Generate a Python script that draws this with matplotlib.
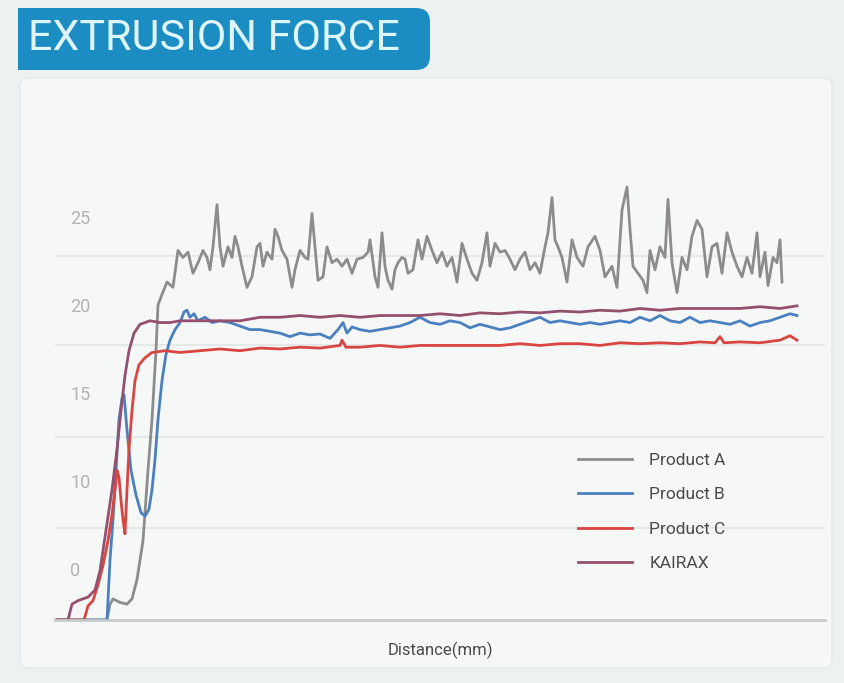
import matplotlib
matplotlib.use('Agg')
import matplotlib.pyplot as plt
from matplotlib.patches import Rectangle, FancyBboxPatch

# distance (arbitrary units, no tick labels on the reference) and force
a_x = [0, 50, 53, 56, 63, 70, 75, 80, 86, 91, 95, 99, 101, 105, 110, 116, 121, 126, 131, 136,
       141, 146, 150, 153, 156, 160, 163, 166, 171, 175, 178, 181, 185, 190, 195, 200, 203, 206,
       210, 215, 218, 221, 225, 230, 235, 238, 243, 248, 251, 255, 258, 261, 266, 270, 275, 280,
       285, 290, 295, 300, 306, 311, 313, 318, 321, 325, 328, 331, 335, 338, 341, 345, 348, 351,
       356, 361, 365, 370, 375, 380, 385, 390, 395, 400, 405, 410, 415, 420, 425, 430, 433, 438,
       443, 448, 453, 458, 463, 468, 473, 478, 483, 488, 491, 495, 498, 501, 505, 510, 515, 520,
       526, 531, 538, 543, 548, 555, 560, 565, 570, 573, 576, 581, 586, 590, 593, 598, 603, 608,
       611, 615, 620, 625, 630, 635, 640, 645, 650, 655, 660, 665, 670, 675, 680, 685, 690, 695,
       700, 703, 708, 711, 716, 720, 723, 725]
a_y = [2.1, 2.1, 3.0, 3.3, 3.1, 3.0, 3.3, 4.4, 6.6, 10.6, 13.5, 17.4, 20.0, 20.6, 21.3, 21.0,
       23.1, 22.7, 23.0, 21.8, 22.4, 23.1, 22.7, 22.0, 23.3, 25.7, 23.3, 22.2, 23.3, 22.7, 23.9,
       23.3, 22.2, 21.0, 21.6, 23.3, 23.5, 22.2, 23.0, 22.6, 24.3, 23.9, 23.1, 22.6, 21.0, 22.0,
       23.1, 22.7, 22.6, 25.2, 23.3, 21.4, 21.6, 23.3, 22.4, 22.6, 22.2, 22.6, 21.8, 22.6, 22.7,
       23.0, 23.7, 21.6, 21.0, 24.1, 22.2, 21.4, 20.9, 22.0, 22.4, 22.7, 22.6, 21.8, 22.0, 23.7,
       22.6, 23.9, 23.1, 22.4, 23.0, 22.2, 22.7, 21.3, 23.5, 22.6, 21.8, 21.4, 22.4, 24.1, 22.2,
       23.5, 23.0, 23.1, 22.6, 22.0, 22.6, 23.0, 22.0, 22.4, 21.8, 23.3, 24.1, 26.1, 23.7, 23.3,
       22.7, 21.3, 23.7, 22.7, 22.2, 23.3, 23.9, 23.1, 21.6, 22.2, 21.0, 25.4, 26.7, 24.3, 22.2,
       21.8, 21.4, 20.7, 23.1, 22.0, 23.3, 22.7, 26.0, 22.4, 20.7, 22.7, 22.0, 23.9, 24.8, 24.3,
       21.6, 23.3, 23.5, 21.8, 24.1, 23.0, 22.2, 21.6, 22.7, 21.8, 24.1, 21.6, 23.0, 21.1, 22.7,
       22.4, 23.7, 21.3]

b_x = [0, 50, 53, 56, 59, 62, 65, 67, 70, 74, 79, 84, 88, 92, 95, 98, 101, 105, 109, 113, 118,
       123, 127, 130, 133, 137, 141, 148, 155, 163, 173, 183, 193, 203, 213, 223, 233, 243, 253,
       263, 273, 281, 286, 290, 295, 303, 313, 323, 333, 343, 353, 363, 373, 383, 393, 403, 413,
       423, 433, 443, 453, 463, 473, 483, 493, 503, 513, 523, 533, 543, 553, 563, 573, 583, 593,
       603, 613, 623, 633, 643, 653, 663, 673, 683, 693, 703, 713, 723, 733, 740]
b_y = [2.1, 2.1, 5.5, 7.8, 10.6, 13.5, 14.7, 14.9, 12.9, 10.6, 9.2, 8.2, 8.0, 8.4, 9.5, 11.2,
       13.5, 15.7, 17.2, 18.0, 18.6, 19.0, 19.6, 19.7, 19.3, 19.5, 19.1, 19.3, 19.0, 19.1, 19.0,
       18.8, 18.6, 18.6, 18.5, 18.4, 18.2, 18.4, 18.3, 18.35, 18.1, 18.6, 19.0, 18.4, 18.75, 18.6,
       18.5, 18.6, 18.7, 18.8, 19.0, 19.3, 19.0, 18.9, 19.1, 19.0, 18.7, 18.9, 18.75, 18.6, 18.7,
       18.9, 19.1, 19.3, 19.0, 19.1, 19.0, 18.9, 19.0, 18.9, 19.0, 19.1, 19.0, 19.3, 19.1, 19.4,
       19.1, 19.0, 19.3, 19.0, 19.1, 19.0, 18.9, 19.1, 18.8, 19.0, 19.1, 19.3, 19.5, 19.4]

c_x = [0, 27, 31, 36, 41, 46, 51, 55, 58, 60, 62, 64, 66, 68, 70, 72, 75, 78, 82, 88, 95, 108,
       123, 143, 163, 183, 203, 223, 243, 263, 283, 285, 289, 303, 323, 343, 363, 383, 403, 423,
       443, 463, 483, 503, 523, 543, 563, 583, 603, 623, 643, 658, 663, 667, 683, 703, 723, 733, 740]
c_y = [2.1, 2.1, 2.9, 3.2, 4.1, 5.2, 6.6, 8.1, 9.5, 10.6, 10.2, 8.9, 7.8, 7.0, 9.5, 11.8, 14.0,
       15.7, 16.6, 17.0, 17.3, 17.4, 17.3, 17.4, 17.5, 17.4, 17.55, 17.5, 17.6, 17.55, 17.7, 18.0,
       17.6, 17.6, 17.7, 17.6, 17.7, 17.7, 17.7, 17.7, 17.7, 17.8, 17.7, 17.8, 17.8, 17.7, 17.85,
       17.8, 17.85, 17.8, 17.9, 17.85, 18.2, 17.85, 17.9, 17.85, 18.0, 18.25, 18.0]

k_x = [0, 11, 15, 21, 31, 38, 43, 49, 55, 60, 64, 68, 72, 77, 83, 93, 103, 113, 123, 143, 163,
       183, 203, 223, 243, 263, 283, 303, 323, 343, 363, 383, 403, 423, 443, 463, 483, 503, 523,
       543, 563, 583, 603, 623, 643, 663, 683, 703, 723, 740]
k_y = [2.1, 2.1, 3.0, 3.2, 3.4, 3.8, 4.9, 7.2, 9.5, 11.8, 14.0, 16.0, 17.4, 18.4, 18.9, 19.1,
       19.0, 19.0, 19.1, 19.1, 19.1, 19.1, 19.3, 19.3, 19.4, 19.3, 19.4, 19.3, 19.4, 19.4, 19.4,
       19.5, 19.4, 19.55, 19.5, 19.6, 19.55, 19.65, 19.6, 19.7, 19.65, 19.8, 19.7, 19.8, 19.8,
       19.8, 19.8, 19.9, 19.8, 19.95]

tick_vals = [25, 20, 15, 10, 5]
tick_labels = ['25', '20', '15', '10', '0']
grid_vals = [22.8, 17.7, 12.5, 7.3]

W, H = 844, 683
fig = plt.figure(figsize=(W / 100, H / 100), dpi=100, facecolor='#eef1f1')

# light panel behind the chart
fig.patches.append(FancyBboxPatch((20, H - 668), 812, 590, boxstyle='round,pad=0,rounding_size=8',
                                  transform=None, facecolor='#f6f8f8', edgecolor='#e6e9e9', lw=1,
                                  zorder=-2))

# title banner
fig.patches.append(Rectangle((18, H - 70), 300, 62, transform=None, facecolor='#1b8dc2', lw=0,
                             zorder=-1))
fig.patches.append(FancyBboxPatch((250, H - 70), 180, 62, boxstyle='round,pad=0,rounding_size=14',
                                  transform=None, facecolor='#1b8dc2', lw=0, zorder=-1))
fig.text(28 / W, 1 - 39 / H, 'EXTRUSION FORCE', color='#def5fb', fontsize=31, va='center',
         ha='left', family=['Roboto', 'DejaVu Sans'])

ax = fig.add_axes([55 / W, 1 - 620 / H, 770 / W, 440 / H])
ax.set_facecolor('none')

for g in grid_vals:
    ax.axhline(g, color='#e2e5e5', lw=1.2, zorder=0)

ax.plot(a_x, a_y, color='#8c8c8c', lw=2, label='Product A')
ax.plot(b_x, b_y, color='#4a80c0', lw=2, label='Product B')
ax.plot(c_x, c_y, color='#d9463f', lw=2, label='Product C')
ax.plot(k_x, k_y, color='#94506e', lw=2, label='KAIRAX')

ax.set_xlim(-2, 768)
ax.set_ylim(2.1, 27.1)

for s in ['top', 'right', 'left']:
    ax.spines[s].set_visible(False)
ax.spines['bottom'].set_color('#c6caca')
ax.spines['bottom'].set_linewidth(2)

ax.set_xticks([])
ax.set_yticks(tick_vals, tick_labels)
ax.tick_params(axis='y', length=0, pad=-11, labelcolor='#b3b3b3', labelsize=13)
for lbl in ax.get_yticklabels():
    lbl.set_horizontalalignment('left')
    lbl.set_family(['Roboto', 'DejaVu Sans'])

ax.set_xlabel('Distance(mm)', color='#4a4a4a', fontsize=12, labelpad=16,
              family=['Roboto', 'DejaVu Sans'])

ax.legend(loc='upper left', bbox_to_anchor=(578 / W, 1 - 453 / H), bbox_transform=fig.transFigure,
          frameon=False, handlelength=3.1, handletextpad=1.0, labelspacing=1.1,
          borderpad=0, borderaxespad=0, labelcolor='#4a4a4a',
          prop={'family': ['Roboto', 'DejaVu Sans'], 'size': 12.5})

plt.savefig('out.png', dpi=100, facecolor=fig.get_facecolor())
